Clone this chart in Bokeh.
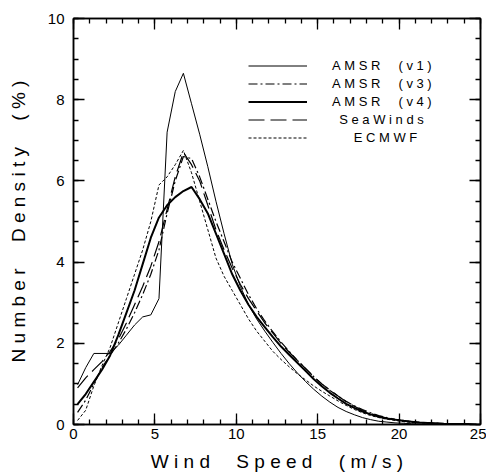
from bokeh.plotting import figure
from bokeh.models import Range1d, Legend, LegendItem, FixedTicker, LinearAxis
from bokeh.embed import file_html
from bokeh.resources import INLINE

# ---- data ----
wind_speed = [0.25, 0.75, 1.25, 1.75, 2.25, 2.75, 3.25, 3.75, 4.25, 4.75,
              5.25, 5.75, 6.25, 6.75, 7.25, 7.75, 8.25, 8.75, 9.25, 9.75,
              10.25, 10.75, 11.25, 11.75, 12.25, 12.75, 13.25, 13.75, 14.25, 14.75,
              15.25, 15.75, 16.25, 16.75, 17.25, 17.75, 18.25, 18.75, 19.25, 19.75,
              20.25, 20.75, 21.25, 21.75, 22.25, 22.75, 23.25, 23.75, 24.25, 24.75]

amsr_v1 = [0.98, 1.40, 1.75, 1.75, 1.75, 1.95, 2.20, 2.45, 2.65, 2.70,
           3.10, 7.20, 8.20, 8.65, 7.90, 7.15, 6.35, 5.50, 4.70, 3.95,
           3.40, 2.95, 2.60, 2.30, 2.02, 1.75, 1.50, 1.27, 1.06, 0.87,
           0.70, 0.55, 0.42, 0.32, 0.24, 0.17, 0.12, 0.08, 0.06, 0.04,
           0.03, 0.02, 0.01, 0.01, 0.00, 0.00, 0.00, 0.00, 0.00, 0.00]

amsr_v3 = [0.30, 0.60, 1.00, 1.40, 1.70, 2.00, 2.35, 2.75, 3.20, 3.70,
           4.30, 5.20, 6.00, 6.60, 6.55, 6.10, 5.55, 5.00, 4.50, 4.00,
           3.60, 3.20, 2.85, 2.55, 2.28, 2.03, 1.80, 1.58, 1.38, 1.18,
           1.00, 0.84, 0.70, 0.57, 0.46, 0.37, 0.29, 0.22, 0.17, 0.13,
           0.10, 0.07, 0.05, 0.04, 0.03, 0.02, 0.01, 0.01, 0.00, 0.00]

amsr_v4 = [0.50, 0.75, 1.05, 1.35, 1.70, 2.20, 2.75, 3.30, 3.95, 4.60,
           5.10, 5.40, 5.60, 5.75, 5.85, 5.55, 5.20, 4.70, 4.20, 3.70,
           3.30, 2.95, 2.65, 2.40, 2.15, 1.92, 1.72, 1.52, 1.32, 1.12,
           0.94, 0.78, 0.64, 0.51, 0.41, 0.32, 0.25, 0.19, 0.15, 0.12,
           0.09, 0.07, 0.05, 0.04, 0.03, 0.02, 0.015, 0.01, 0.01, 0.00]

seawinds = [0.90, 1.15, 1.35, 1.55, 1.80, 2.10, 2.50, 2.95, 3.40, 3.90,
            4.50, 5.30, 6.10, 6.70, 6.40, 6.00, 5.40, 4.80, 4.30, 3.85,
            3.45, 3.10, 2.80, 2.50, 2.25, 2.00, 1.78, 1.58, 1.38, 1.18,
            1.00, 0.85, 0.70, 0.56, 0.45, 0.35, 0.27, 0.21, 0.16, 0.12,
            0.09, 0.07, 0.05, 0.04, 0.03, 0.02, 0.01, 0.01, 0.00, 0.00]

ecmwf = [0.10, 0.35, 0.95, 1.45, 1.90, 2.50, 3.10, 3.70, 4.30, 5.00,
         5.90, 6.10, 6.40, 6.75, 6.20, 5.50, 4.80, 4.10, 3.65, 3.30,
         2.95, 2.60, 2.30, 2.05, 1.80, 1.60, 1.42, 1.25, 1.10, 0.95,
         0.82, 0.70, 0.58, 0.47, 0.37, 0.29, 0.22, 0.17, 0.13, 0.10,
         0.07, 0.05, 0.04, 0.03, 0.02, 0.01, 0.00, 0.00, 0.00, 0.00]

series_names = ["AMSR (v1)", "AMSR (v3)", "AMSR (v4)", "SeaWinds", "ECMWF"]
legend_pad = [0, 0, 0, 2, 6]          # leading spaces to centre the legend texts
x_ticks = [0, 5, 10, 15, 20, 25]
x_minor = list(range(0, 26))
y_ticks = [0, 2, 4, 6, 8, 10]
y_minor = [i * 0.5 for i in range(0, 21)]

FONT = "Liberation Sans"
NB = "\u00a0"


def spaced(s, gap=1, word_gap=5):
    words = s.split(" ")
    return (NB * word_gap).join((NB * gap).join(w) for w in words)


p = figure(frame_width=407, frame_height=406,
           min_border_left=73, min_border_right=6, min_border_top=18, min_border_bottom=50,
           x_range=Range1d(0, 25), y_range=Range1d(0, 10),
           output_backend="svg", toolbar_location=None)
p.grid.visible = False
p.outline_line_color = "black"
p.outline_line_width = 1.5
p.background_fill_color = "white"
p.border_fill_color = "white"

styles = [
    dict(line_width=1.0, line_dash="solid"),
    dict(line_width=1.2, line_dash="9 3 2 3"),
    dict(line_width=2.0, line_dash="solid"),
    dict(line_width=1.2, line_dash="16 6"),
    dict(line_width=1.0, line_dash="3 2"),
]
data = [amsr_v1, amsr_v3, amsr_v4, seawinds, ecmwf]
renderers = []
for ys, st in zip(data, styles):
    r = p.line(wind_speed, ys, line_color="black", **st)
    renderers.append(r)

# axes: inward ticks on all four sides
MAJ, MIN = 11, 5
xa = p.xaxis[0]
ya = p.yaxis[0]
xa.ticker = FixedTicker(ticks=x_ticks, minor_ticks=x_minor)
ya.ticker = FixedTicker(ticks=y_ticks, minor_ticks=y_minor)
top = LinearAxis(ticker=FixedTicker(ticks=x_ticks, minor_ticks=x_minor))
right = LinearAxis(ticker=FixedTicker(ticks=y_ticks, minor_ticks=y_minor))
p.add_layout(top, "above")
p.add_layout(right, "right")

for ax in (xa, ya, top, right):
    ax.major_tick_in = MAJ
    ax.major_tick_out = 0
    ax.minor_tick_in = MIN
    ax.minor_tick_out = 0
    ax.major_tick_line_color = "black"
    ax.minor_tick_line_color = "black"
    ax.major_tick_line_width = 1.3
    ax.minor_tick_line_width = 1.3
    ax.axis_line_color = "black"
    ax.axis_line_width = 1.5
for ax in (top, right):
    ax.major_label_text_font_size = "0px"
    ax.major_label_text_color = None
    ax.major_label_standoff = 0

xa.axis_label = spaced("Wind Speed (m/s)")
ya.axis_label = spaced("Number Density (%)")
for ax in (xa, ya):
    ax.major_label_text_font = FONT
    ax.major_label_text_font_size = "15px"
    ax.major_label_text_color = "black"
    ax.axis_label_text_font = FONT
    ax.axis_label_text_font_size = "19px"
    ax.axis_label_text_font_style = "normal"
    ax.axis_label_text_color = "black"
xa.major_label_standoff = 4
xa.axis_label_standoff = 9
ya.major_label_standoff = 9
ya.axis_label_standoff = 16

legend = Legend(
    items=[LegendItem(label=NB * pad + spaced(n, 1, 5), renderers=[r])
           for n, r, pad in zip(series_names, renderers, legend_pad)],
    location=(175, 279),
    glyph_width=59, glyph_height=15, label_height=15, spacing=3,
    label_standoff=25,
    label_text_font=FONT, label_text_font_size="13px", label_text_color="black",
    padding=0, margin=0,
    border_line_color=None, background_fill_alpha=0.0,
)
p.add_layout(legend, "center")

open("out.html", "w").write(file_html(p, INLINE))
